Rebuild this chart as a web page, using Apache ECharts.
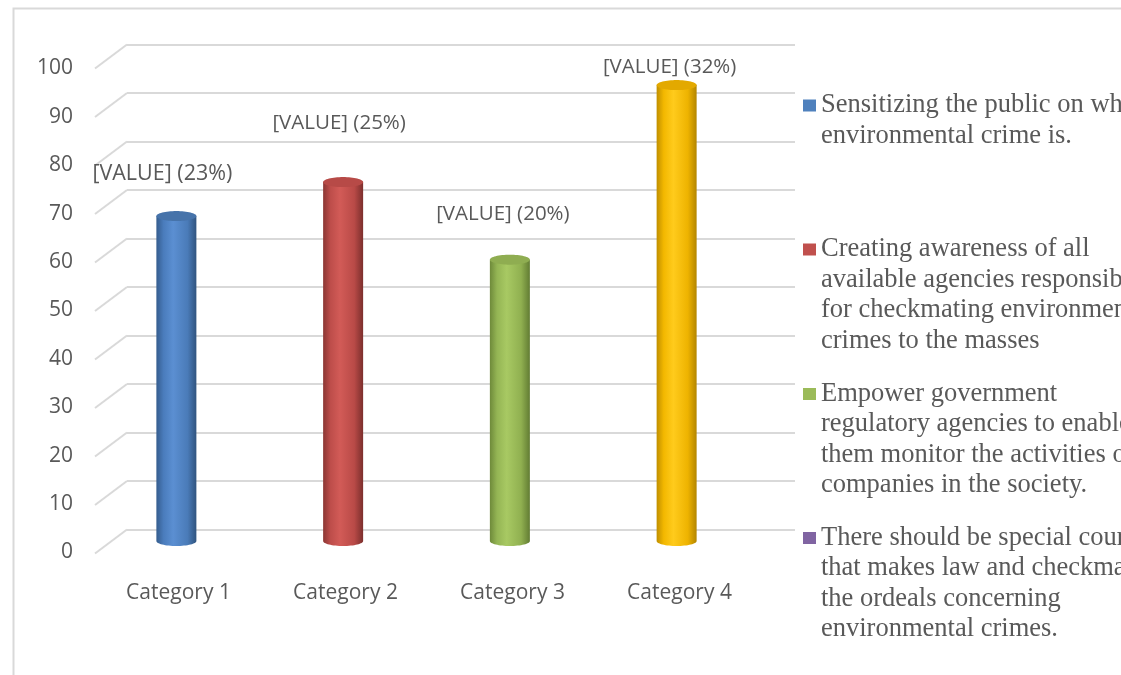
<!DOCTYPE html>
<html>
<head>
<meta charset="utf-8">
<script src="https://cdn.jsdelivr.net/npm/echarts@6/dist/echarts.min.js"></script>
<style>
  html, body { margin: 0; padding: 0; background: #ffffff; }
  #chart { width: 1121px; height: 675px; }
</style>
</head>
<body>
<div id="chart"></div>
<script>
// ---- data ----
const categories = ['Category 1', 'Category 2', 'Category 3', 'Category 4'];
const values = [67, 74, 58, 94];
const yTicks = [0, 10, 20, 30, 40, 50, 60, 70, 80, 90, 100];
const seriesNames = [
  'Sensitizing the public on what environmental crime is.',
  'Creating awareness of all available agencies responsible for checkmating environmental crimes to the masses',
  'Empower government regulatory agencies to enable them monitor the activities of companies in the society.',
  'There should be special courts that makes law and checkmate the ordeals concerning environmental crimes.'
];
const legendLines = [
  ['Sensitizing the public on what', 'environmental crime is.'],
  ['Creating awareness of all', 'available agencies responsible', 'for checkmating environmental', 'crimes to the masses'],
  ['Empower government', 'regulatory agencies to enable', 'them monitor the activities of', 'companies in the society.'],
  ['There should be special courts', 'that makes law and checkmate', 'the ordeals concerning', 'environmental crimes.']
];

// ---- styles ----
const TEXT = '#595959';
const GRID_LINE = '#d9d9d9';
const LEGEND_COLORS = ['#4f81bd', '#c0504d', '#9bbb59', '#8064a2'];
const PALETTE = [
  { top: '#4673aa', stops: ['#355d8e', '#4a7cbc', '#5b8fd2', '#4a7bb8', '#30547f'] },
  { top: '#b74a47', stops: ['#8b3633', '#bd4d4a', '#d25b57', '#b94a47', '#7c2f2d'] },
  { top: '#8fad51', stops: ['#6e8a3a', '#94b554', '#a8c963', '#90b050', '#627c33'] },
  { top: '#e3a900', stops: ['#c08f00', '#f3b800', '#ffcb1c', '#eeb300', '#b38500'] }
];
const CYL = { rx: 20, ry: 5, seg: 32 };
const DEPTH = { x: -32, y: 24 };            // front edge offset of the floor/wall
const BACK = { left: 127, top: 44.5, width: 668, height: 485 };
const FRONT = { left: BACK.left + DEPTH.x, top: BACK.top + DEPTH.y, width: 668, height: 484 };
const MID = { left: 93, top: 56, width: 667, height: 485 };
const LABEL_OFFSET = [[-14, -42, 21.5], [-4, -59, 20.5], [-7, -46, 20.5], [-7, -18, 20.5]];
const LEGEND_CENTERS = [105.5, 249.5, 394, 538];
const LEGEND_LH = 30.5;

const total = values.reduce((a, b) => a + b, 0);
const yMin = yTicks[0], yMax = yTicks[yTicks.length - 1], yStep = yTicks[1] - yTicks[0];

function ellipsePoints(cx, cy, rx, ry, from, to, n) {
  const pts = [];
  for (let k = 0; k <= n; k++) {
    const t = from + (to - from) * k / n;
    pts.push([cx + rx * Math.cos(t), cy + ry * Math.sin(t)]);
  }
  return pts;
}

function cylinderRenderer(idx) {
  const pal = PALETTE[idx];
  return function (params, api) {
    const v = api.value(1);
    const top = api.coord([api.value(0), v]);
    const base = api.coord([api.value(0), 0]);
    const cx = top[0];
    const body = [[cx - CYL.rx, top[1]]]
      .concat(ellipsePoints(cx, base[1], CYL.rx, CYL.ry, Math.PI, 0, CYL.seg))
      .concat([[cx + CYL.rx, top[1]]]);
    const cap = ellipsePoints(cx, top[1], CYL.rx, CYL.ry, 0, Math.PI * 2, CYL.seg * 2);
    const grad = new echarts.graphic.LinearGradient(0, 0, 1, 0, [
      { offset: 0, color: pal.stops[0] },
      { offset: 0.18, color: pal.stops[1] },
      { offset: 0.42, color: pal.stops[2] },
      { offset: 0.78, color: pal.stops[3] },
      { offset: 1, color: pal.stops[4] }
    ]);
    const off = LABEL_OFFSET[idx];
    return {
      type: 'group',
      children: [
        { type: 'polygon', shape: { points: body }, style: { fill: grad } },
        { type: 'polygon', shape: { points: cap }, style: { fill: pal.top } },
        {
          type: 'text',
          style: {
            x: cx + off[0], y: top[1] + off[1],
            text: '[VALUE] (' + Math.round(v / total * 100) + '%)',
            fill: TEXT, fontFamily: 'Open Sans', fontSize: off[2],
            align: 'center', verticalAlign: 'middle'
          }
        }
      ]
    };
  };
}

const valueAxisBase = { type: 'value', min: yMin, max: yMax, interval: yStep };

const option = {
  animation: false,
  backgroundColor: '#ffffff',
  grid: [Object.assign({}, BACK), Object.assign({}, FRONT), Object.assign({}, MID)],
  xAxis: [
    { gridIndex: 0, type: 'category', data: categories, show: false },
    {
      gridIndex: 1, type: 'category', data: categories,
      axisLine: { show: false }, axisTick: { show: false },
      axisLabel: { color: TEXT, fontFamily: 'Open Sans', fontSize: 21, margin: 30 }
    },
    { gridIndex: 2, type: 'category', data: categories, show: false }
  ],
  yAxis: [
    Object.assign({ gridIndex: 0 }, valueAxisBase, {
      axisLine: { show: false }, axisTick: { show: false }, axisLabel: { show: false },
      splitLine: { show: true, lineStyle: { color: GRID_LINE, width: 2 } }
    }),
    Object.assign({ gridIndex: 1 }, valueAxisBase, {
      axisLine: { show: false }, axisTick: { show: false }, splitLine: { show: false },
      axisLabel: { color: TEXT, fontFamily: 'Open Sans', fontSize: 21, margin: 22, padding: [10, 0, 0, 0] }
    }),
    Object.assign({ gridIndex: 2 }, valueAxisBase, { show: false, splitLine: { show: false } })
  ],
  // one legend block per entry; the first text line sits level with the swatch
  legend: seriesNames.map((name, i) => {
    const lines = legendLines[i];
    const boxH = (2 * lines.length - 1) * LEGEND_LH;
    return {
      data: [name],
      orient: 'vertical',
      left: 803,
      top: LEGEND_CENTERS[i] - boxH / 2,
      padding: 0,
      itemWidth: 13,
      itemHeight: 12,
      itemGap: 0,
      icon: 'rect',
      selectedMode: false,
      formatter: () => '\n'.repeat(lines.length - 1) + lines.join('\n'),
      textStyle: {
        color: TEXT, fontFamily: 'Liberation Serif', fontSize: 26.5, lineHeight: LEGEND_LH
      }
    };
  }),
  graphic: [
    {
      type: 'rect', shape: { x: 13.5, y: 8.5, width: 1300, height: 800 },
      style: { fill: 'none', stroke: GRID_LINE, lineWidth: 2 }, silent: true
    }
  ],
  series: [
    {
      // slanted floor-to-wall gridline segments
      type: 'custom', xAxisIndex: 0, yAxisIndex: 0, clip: false, silent: true,
      data: yTicks.map(t => [0, t]),
      renderItem: function (params, api) {
        const p = api.coord([0, api.value(1)]);
        const left = p[0] - api.size([1, 0])[0] / 2;
        return {
          type: 'line',
          shape: { x1: left, y1: p[1], x2: left + DEPTH.x, y2: p[1] + DEPTH.y },
          style: { stroke: GRID_LINE, lineWidth: 2 }
        };
      }
    }
  ].concat(seriesNames.map((name, i) => ({
    name: name,
    type: 'custom',
    xAxisIndex: 2, yAxisIndex: 2,
    clip: false,
    itemStyle: { color: LEGEND_COLORS[i] },
    data: [[i, values[i]]],
    renderItem: cylinderRenderer(i)
  })))
};

const chart = echarts.init(document.getElementById('chart'), null, { renderer: 'canvas' });
chart.setOption(option);
</script>
</body>
</html>
